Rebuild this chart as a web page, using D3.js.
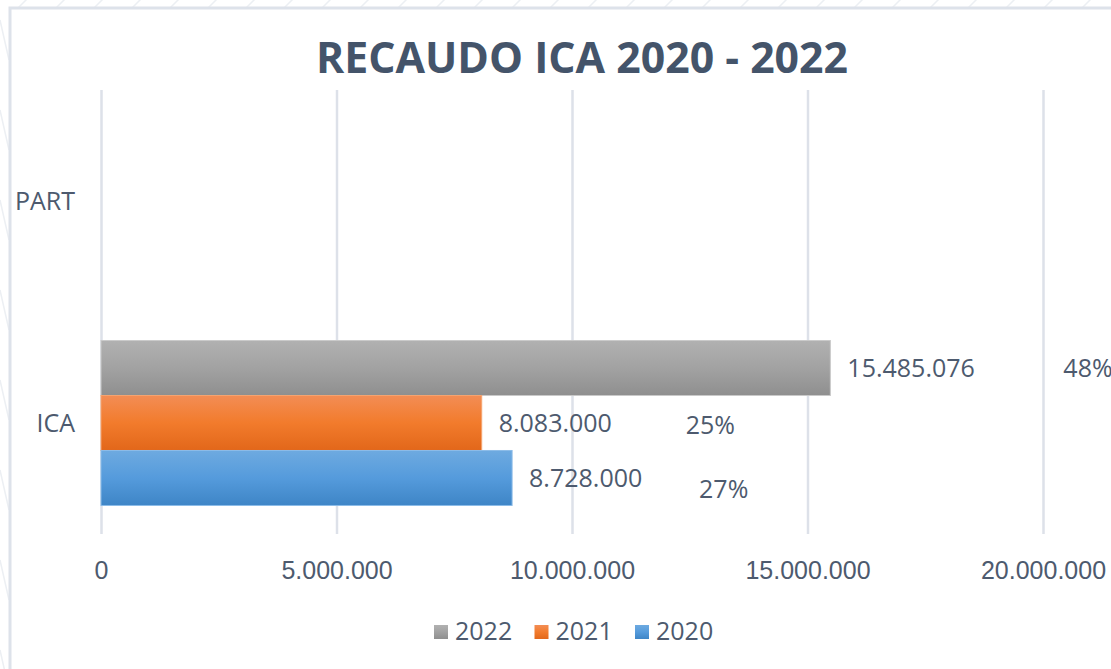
<!DOCTYPE html>
<html>
<head>
<meta charset="utf-8">
<script src="https://cdn.jsdelivr.net/npm/d3@7"></script>
<style>
	html, body { margin: 0; padding: 0; background: #fff; }
	svg { display: block; font-family: 'Open Sans', sans-serif; }
	.tick-label, .cat-label, .value-label, .pct-label, .legend-label { fill: #4d5a6e; font-size: 25px; }
	.title { fill: #44546a; font-size: 43px; font-weight: 700; }
</style>
</head>
<body>
<div id="chart"></div>
<script>
// Chart data
var categories = ['PART', 'ICA'];
var seriesNames = ['2022', '2021', '2020'];
var icaValues = [15485076, 8083000, 8728000];
var partLabels = ['48%', '25%', '27%'];
var tickValues = [0, 5000000, 10000000, 15000000, 20000000];

var WIDTH = 1111;
var HEIGHT = 669;

var fmtNum = function(v) {
	return d3.format(',')(v).replace(/,/g, '.');
};

var render = function() {
	var margins = { top: 90, right: 68, bottom: 135, left: 101 };
	var chartWidth = WIDTH - margins.left - margins.right;
	var chartHeight = HEIGHT - margins.top - margins.bottom;

	var svg = d3.select('#chart')
		.append('svg')
		.attr('width', WIDTH)
		.attr('height', HEIGHT);

	/*
	 * Gradients for bars (Excel style)
	 */
	var gradStops = {
		'2022': ['#b1b1b1', '#a2a2a2', '#8f8f8f'],
		'2021': ['#f38d55', '#f27b2c', '#e2671a'],
		'2020': ['#6eaae0', '#559bdc', '#3e85c6']
	};
	var defs = svg.append('defs');
	seriesNames.forEach(function(s) {
		var g = defs.append('linearGradient')
			.attr('id', 'grad-' + s)
			.attr('x1', 0).attr('x2', 0).attr('y1', 0).attr('y2', 1);
		gradStops[s].forEach(function(c, i) {
			g.append('stop').attr('offset', (i * 50) + '%').attr('stop-color', c);
		});
	});
	var stroke = { '2022': '#c9c9c9', '2021': '#f5a470', '2020': '#8cbce8' };

	// faint background stripes outside the chart frame
	var bg = svg.append('g').attr('stroke', '#eceff3').attr('stroke-width', 1.5);
	d3.range(-20, 1200, 38).forEach(function(x) {
		bg.append('line').attr('x1', x).attr('y1', 8).attr('x2', x + 14).attr('y2', -6);
	});
	d3.range(20, 700, 90).forEach(function(y) {
		bg.append('line').attr('x1', 0).attr('y1', y).attr('x2', 9).attr('y2', y + 40);
	});

	// chart frame
	svg.append('rect')
		.attr('x', 10).attr('y', 8)
		.attr('width', WIDTH + 20).attr('height', HEIGHT + 20)
		.attr('fill', '#fff')
		.attr('stroke', '#dde2ea')
		.attr('stroke-width', 3);

	// title
	svg.append('text')
		.attr('class', 'title')
		.attr('x', 582).attr('y', 73)
		.attr('text-anchor', 'middle')
		.attr('textLength', 532)
		.attr('lengthAdjust', 'spacingAndGlyphs')
		.text('RECAUDO ICA 2020 - 2022');

	var chartElement = svg.append('g')
		.attr('transform', 'translate(' + margins.left + ',' + margins.top + ')');

	/*
	 * Scales
	 */
	var xScale = d3.scaleLinear()
		.domain([0, 20000000])
		.range([0, chartWidth]);

	var yScale = d3.scaleBand()
		.domain(categories)
		.range([0, chartHeight])
		.paddingInner(0.257)
		.paddingOuter(0.1285);

	var ySub = d3.scaleBand()
		.domain(seriesNames)
		.range([0, yScale.bandwidth()]);

	/*
	 * Grid
	 */
	chartElement.append('g')
		.attr('class', 'x grid')
		.call(d3.axisBottom(xScale).tickValues(tickValues).tickSize(chartHeight).tickFormat(''))
		.call(function(g) {
			g.select('.domain').remove();
			g.selectAll('line').attr('stroke', '#dde1e9').attr('stroke-width', 2.5);
		});

	// x tick labels
	chartElement.append('g')
		.attr('class', 'x axis')
		.attr('transform', 'translate(0,' + chartHeight + ')')
		.call(d3.axisBottom(xScale).tickValues(tickValues).tickSize(0).tickPadding(45).tickFormat(fmtNum))
		.call(function(g) {
			g.select('.domain').remove();
			g.selectAll('text')
				.attr('class', 'tick-label')
				.attr('font-family', null)
				.attr('font-size', null)
				.attr('fill', null)
				.attr('dy', null);
		});

	// category labels
	chartElement.append('g')
		.selectAll('text')
		.data(categories)
		.enter()
		.append('text')
		.attr('class', 'cat-label')
		.attr('x', -26)
		.attr('y', function(d) { return yScale(d) + yScale.bandwidth() / 2; })
		.attr('dy', '0.36em')
		.attr('text-anchor', 'end')
		.text(function(d) { return d; });

	/*
	 * Bars (only ICA has visible values)
	 */
	var barData = seriesNames.map(function(s, i) {
		return { name: s, value: icaValues[i], pct: partLabels[i] };
	});

	var bandY = yScale('ICA');

	chartElement.append('g')
		.selectAll('rect')
		.data(barData)
		.enter()
		.append('rect')
		.attr('x', xScale(0))
		.attr('y', function(d) { return bandY + ySub(d.name); })
		.attr('width', function(d) { return xScale(d.value) - xScale(0); })
		.attr('height', ySub.bandwidth())
		.attr('fill', function(d) { return 'url(#grad-' + d.name + ')'; })
		.attr('stroke', function(d) { return stroke[d.name]; })
		.attr('stroke-width', 1);

	// value labels
	chartElement.append('g')
		.selectAll('text')
		.data(barData)
		.enter()
		.append('text')
		.attr('class', 'value-label')
		.attr('x', function(d) { return xScale(d.value) + 17; })
		.attr('y', function(d) { return bandY + ySub(d.name) + ySub.bandwidth() / 2; })
		.attr('dy', '0.36em')
		.text(function(d) { return fmtNum(d.value); });

	// percentage labels (manually moved in the original)
	var pctOffsets = [[233, 0], [204, 2], [187, 11]];
	chartElement.append('g')
		.selectAll('text')
		.data(barData)
		.enter()
		.append('text')
		.attr('class', 'pct-label')
		.attr('x', function(d, i) { return xScale(d.value) + pctOffsets[i][0]; })
		.attr('y', function(d, i) { return bandY + ySub(d.name) + ySub.bandwidth() / 2 + pctOffsets[i][1]; })
		.attr('dy', '0.36em')
		.text(function(d) { return d.pct; });

	/*
	 * Legend
	 */
	var legend = svg.append('g')
		.attr('transform', 'translate(434,625)');

	var item = legend.selectAll('g')
		.data(seriesNames)
		.enter()
		.append('g')
		.attr('transform', function(d, i) { return 'translate(' + (i * 100.5) + ',0)'; });

	item.append('rect')
		.attr('width', 14).attr('height', 14)
		.attr('fill', function(d) { return 'url(#grad-' + d + ')'; });

	item.append('text')
		.attr('class', 'legend-label')
		.attr('x', 21)
		.attr('y', 15)
		.text(function(d) { return d; });
};

window.onload = render;
</script>
</body>
</html>
